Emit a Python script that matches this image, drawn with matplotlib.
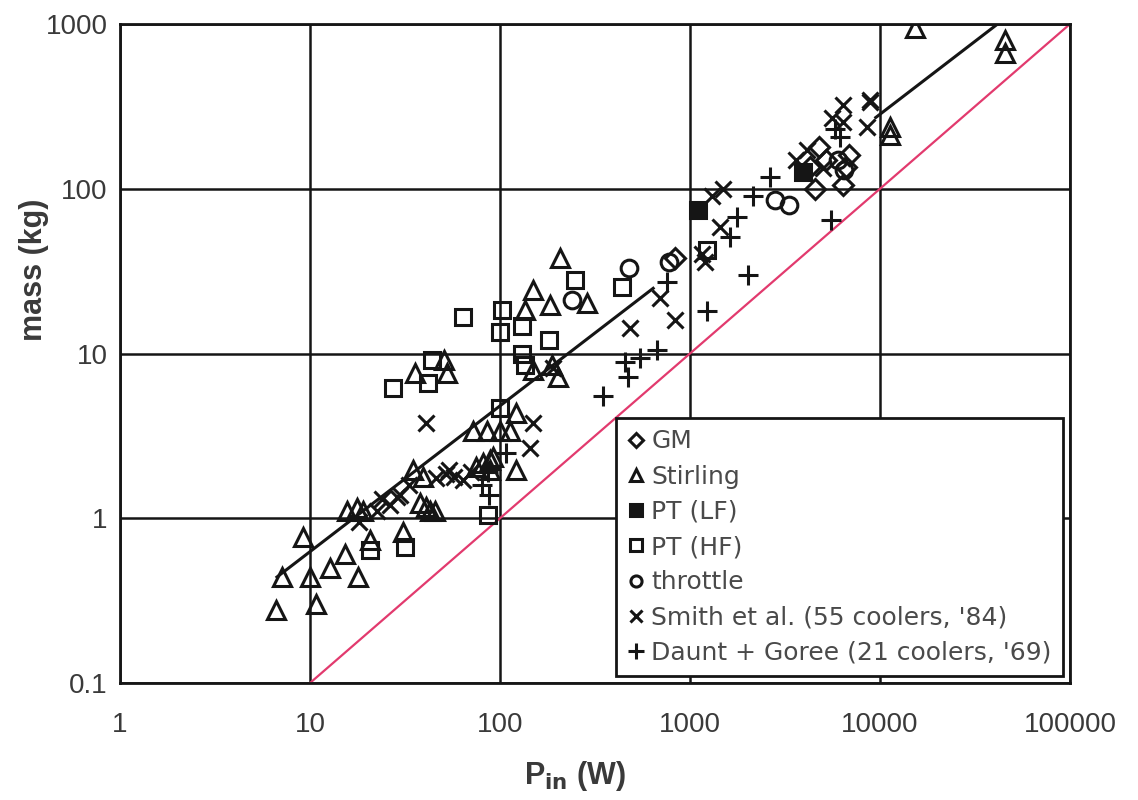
import matplotlib
matplotlib.use('Agg')
import matplotlib.pyplot as plt
from matplotlib.lines import Line2D

plt.rcParams['font.family'] = ['Liberation Sans', 'DejaVu Sans']

# ---- data (P in W, mass in kg) ----
gm_p = [830, 4300, 4800, 5200, 6900, 6600, 4550, 6400]
gm_m = [38, 135, 180, 150, 160, 136, 100, 105]

stirling_p = [6.6, 7.1, 9.15, 10, 10.8, 12.7, 15.3, 17.9, 15.6, 19, 17.6, 20.7,
              31, 41, 45.5, 34.9, 39.3, 38, 42.8, 75, 81, 89, 89, 122, 72, 85,
              100, 113, 122, 92, 35.7, 51, 52.5, 207, 150, 183, 135, 150, 187,
              203, 286, 15290, 45500, 45500, 11300, 11300]
stirling_m = [0.277, 0.44, 0.77, 0.44, 0.30, 0.50, 0.61, 0.44, 1.1, 1.1, 1.15, 0.74,
              0.83, 1.17, 1.1, 1.96, 1.79, 1.24, 1.1, 2.06, 2.15, 2.26, 1.96, 1.96, 3.4, 3.4,
              3.4, 3.4, 4.34, 2.37, 7.6, 9.1, 7.6, 37.8, 24.3, 19.7, 18.4, 7.9, 8.5,
              7.2, 20.2, 942, 800, 663, 238, 212]

ptlf_p = [1100, 3950]
ptlf_m = [74, 127]

pthf_p = [20.7, 31.6, 100, 86, 248, 440, 64, 102, 100, 130, 130, 135, 180,
          43.7, 42, 27.5, 1225]
pthf_m = [0.64, 0.67, 4.65, 1.05, 27.9, 25.4, 16.7, 18.4, 13.5, 14.6, 10, 8.5, 12.1,
          9.1, 6.6, 6.15, 42.5]

throttle_p = [480, 240, 780, 2800, 3300, 6000, 6500]
throttle_m = [33, 21, 36, 85, 80, 150, 130]

smith_p = [41, 150, 144, 52, 57, 46, 64, 28.6, 22.4, 26.4, 29.8, 54, 483,
           834, 695, 1200, 1438, 1497, 4110, 5000, 6410, 8850, 8510, 6400,
           8900, 1300, 18, 24, 33, 70, 190, 1150, 3600, 5600]
smith_m = [3.77, 3.77, 2.66, 1.86, 1.79, 1.75, 1.71, 1.35, 1.1, 1.2, 1.38, 1.96, 14.2,
           16, 21.6, 36, 58.9, 100, 172, 133, 322, 337, 238, 255,
           345, 90, 0.95, 1.3, 1.6, 1.9, 8.2, 40, 150, 270]

daunt_p = [88, 108, 350, 455, 474, 545, 668, 753, 1225, 2028, 1762, 2154, 2640,
           5500, 6160, 1620, 86, 80, 5800]
daunt_m = [1.38, 2.5, 5.5, 8.9, 7.2, 9.4, 10.5, 27.3, 18, 30, 67.6, 90, 118,
           65, 207, 51, 1.9, 1.6, 230]

# fit: mass = a * P^b, drawn in two visible pieces
fit_a = 0.0817
fit_b = 0.885
fit_pieces = [(6.7, 640), (9500, 44000)]

# reference: 1 kg per 100 W
ref_p = [10, 100000]
ref_m = [0.1, 1000]

x_ticks = [1, 10, 100, 1000, 10000, 100000]
x_labels = ['1', '10', '100', '1000', '10000', '100000']
y_ticks = [0.1, 1, 10, 100, 1000]
y_labels = ['0.1', '1', '10', '100', '1000']

ink = '#151515'
txt = '#3a3a3a'
face = 'Liberation Sans'

fig = plt.figure(figsize=(11.38, 8), dpi=100)
ax = fig.add_axes([120 / 1138, 1 - 683 / 800, 950 / 1138, 659 / 800])
ax.set_xscale('log')
ax.set_yscale('log')
ax.set_xlim(1, 100000)
ax.set_ylim(0.1, 1000)

ax.set_xticks(x_ticks)
ax.set_xticklabels(x_labels, fontfamily=face)
ax.set_yticks(y_ticks)
ax.set_yticklabels(y_labels, fontfamily=face)
ax.minorticks_off()
ax.tick_params(length=0, labelsize=20, labelcolor=txt)
ax.tick_params(axis='x', pad=21)
ax.tick_params(axis='y', pad=9)
ax.grid(True, color=ink, linewidth=1.8)
for s in ax.spines.values():
    s.set_linewidth(2.0)
    s.set_color(ink)

ax.plot(ref_p, ref_m, color='#e23a6e', linewidth=1.6, zorder=2)
for lo, hi in fit_pieces:
    ax.plot([lo, hi], [fit_a * lo ** fit_b, fit_a * hi ** fit_b], color=ink,
            linewidth=2.2, zorder=3)

mk = dict(linestyle='none', color=ink, markeredgewidth=2.2, zorder=4)
ax.plot(gm_p, gm_m, marker='D', markersize=10, markerfacecolor='none', **mk)
ax.plot(stirling_p, stirling_m, marker='^', markersize=13, markerfacecolor='none', **mk)
ax.plot(ptlf_p, ptlf_m, marker='s', markersize=11, markerfacecolor=ink, **mk)
ax.plot(pthf_p, pthf_m, marker='s', markersize=12, markerfacecolor='none', **mk)
ax.plot(throttle_p, throttle_m, marker='o', markersize=12, markerfacecolor='none', **mk)
ax.plot(smith_p, smith_m, marker='x', markersize=11, **mk)
ax.plot(daunt_p, daunt_m, marker='+', markersize=15, **mk)

ax.set_xlabel('P$_{\\mathbf{in}}$ (W)', fontsize=22, fontweight='bold', color=txt,
              fontfamily=face)
ax.set_ylabel('mass (kg)', fontsize=22, fontweight='bold', color=txt, fontfamily=face)
ax.xaxis.set_label_coords(0.479, -0.115)
ax.yaxis.set_label_coords(-0.075, 0.627)

handles = [
    Line2D([], [], marker='D', markersize=7, markerfacecolor='none', label='GM', **mk),
    Line2D([], [], marker='^', markersize=9, markerfacecolor='none', label='Stirling', **mk),
    Line2D([], [], marker='s', markersize=8, markerfacecolor=ink, label='PT (LF)', **mk),
    Line2D([], [], marker='s', markersize=8, markerfacecolor='none', label='PT (HF)', **mk),
    Line2D([], [], marker='o', markersize=8, markerfacecolor='none', label='throttle', **mk),
    Line2D([], [], marker='x', markersize=8, label="Smith et al. (55 coolers, '84)", **mk),
    Line2D([], [], marker='+', markersize=11, label="Daunt + Goree (21 coolers, '69)", **mk),
]
leg = ax.legend(handles=handles, loc='lower right', bbox_to_anchor=(0.9926, 0.0106),
                borderaxespad=0, labelspacing=0.45, handlelength=0.7,
                handletextpad=0.25, borderpad=0.45, fancybox=False, framealpha=1,
                edgecolor=ink, labelcolor='#4a4a4a',
                prop={'family': ['DejaVu Sans'], 'size': 18})
leg.get_frame().set_linewidth(2.0)
leg.set_zorder(10)

fig.savefig('out.png', dpi=100)
plt.close(fig)
